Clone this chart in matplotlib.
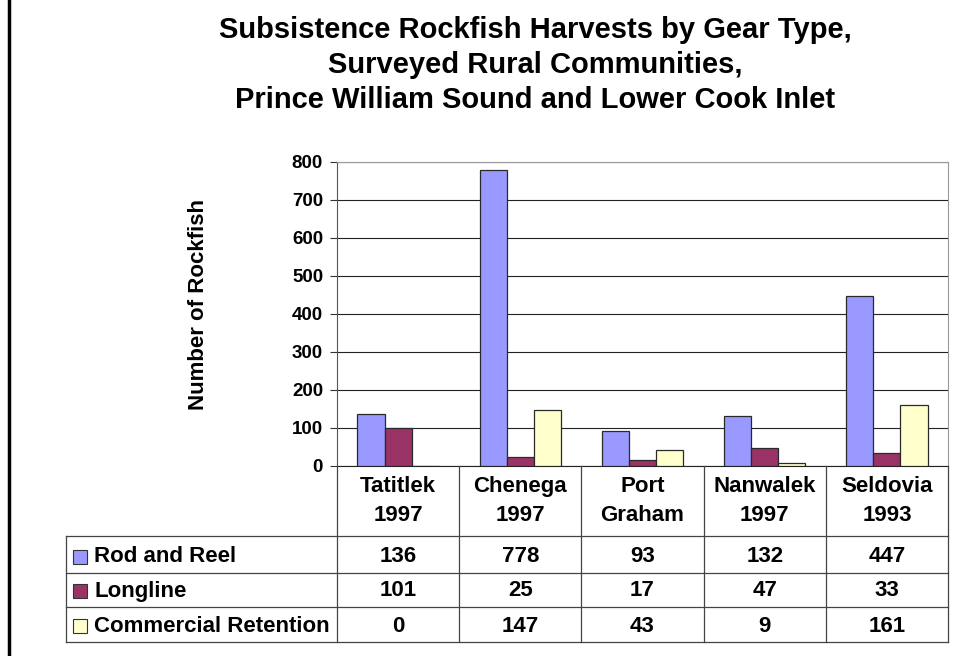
import matplotlib
matplotlib.use("Agg")
import matplotlib.pyplot as plt
import matplotlib.transforms as mtransforms
from matplotlib.patches import Rectangle
from matplotlib.lines import Line2D
import numpy as np

plt.rcParams['font.family'] = ['Liberation Sans', 'DejaVu Sans']
plt.rcParams['font.weight'] = 'bold'

title = ("Subsistence Rockfish Harvests by Gear Type,\n"
         "Surveyed Rural Communities,\n"
         "Prince William Sound and Lower Cook Inlet")
communities = ["Tatitlek\n1997", "Chenega\n1997", "Port\nGraham", "Nanwalek\n1997", "Seldovia\n1993"]
gear = ["Rod and Reel", "Longline", "Commercial Retention"]
rod_reel = [136, 778, 93, 132, 447]
longline = [101, 25, 17, 47, 33]
commercial = [0, 147, 43, 9, 161]
colors = ["#9999FF", "#993366", "#FFFFCC"]

W, H = 965, 656
fig = plt.figure(figsize=(W / 100, H / 100), dpi=100)


def fx(px):
    return px / W


def fy(py):
    return 1 - py / H


ax = fig.add_axes([fx(337), fy(466), fx(948) - fx(337), fy(162) - fy(466)])
series = [rod_reel, longline, commercial]
x = np.arange(len(communities))
w = 1 / 4.5
for j, (vals, c) in enumerate(zip(series, colors)):
    ax.bar(x + (j - 1) * w, vals, w, color=c, edgecolor='#2a2a2a', linewidth=0.9, zorder=3)

ax.set_xlim(-0.5, 4.5)
ax.set_ylim(0, 800)
ax.set_yticks(range(0, 801, 100))
ax.set_xticks([])
ax.yaxis.grid(True, color='#222222', linewidth=0.8)
ax.set_axisbelow(True)
for s in ['top', 'right']:
    ax.spines[s].set_color('#999999')
ax.spines['left'].set_color('#555555')
ax.spines['bottom'].set_color('#222222')
ax.tick_params(axis='y', length=5, width=0.8, color='#333333', pad=5, labelsize=13.5)

# data table under the plot
trans = mtransforms.blended_transform_factory(ax.transData, fig.transFigure)
line_kw = dict(color='#444444', linewidth=0.9)
x_left = fx(66)
x_right = ax.get_position().x1
for py in [536, 573, 607, 642]:
    fig.add_artist(Line2D([x_left, x_right], [fy(py), fy(py)], transform=fig.transFigure, **line_kw))
fig.add_artist(Line2D([x_left, x_left], [fy(536), fy(642)], transform=fig.transFigure, **line_kw))
for k in range(len(communities) + 1):
    fig.add_artist(Line2D([k - 0.5, k - 0.5], [fy(466), fy(642)], transform=trans, **line_kw))

for i, name in enumerate(communities):
    fig.text(i, fy(501), name, transform=trans, ha='center', va='center', fontsize=16, linespacing=1.55)

row_y = [557, 591, 626]
for name, vals, c, py in zip(gear, series, colors, row_y):
    fig.add_artist(Rectangle((fx(73), fy(py + 7)), fx(14), 14 / H, transform=fig.transFigure,
                             facecolor=c, edgecolor='#333333', linewidth=0.8))
    fig.text(fx(94), fy(py), name, ha='left', va='center', fontsize=16)
    for i, v in enumerate(vals):
        fig.text(i, fy(py), str(v), transform=trans, ha='center', va='center', fontsize=16)

fig.text(fx(198), fy(305), "Number of Rockfish", rotation=90, ha='center', va='center', fontsize=16)
fig.text(fx(535), fy(65), title, ha='center', va='center', fontsize=21, linespacing=1.31)

# left frame border
fig.add_artist(Line2D([fx(8.5), fx(8.5)], [0, 1], transform=fig.transFigure, color='black', linewidth=2.5))

fig.savefig('out.png', dpi=100)
